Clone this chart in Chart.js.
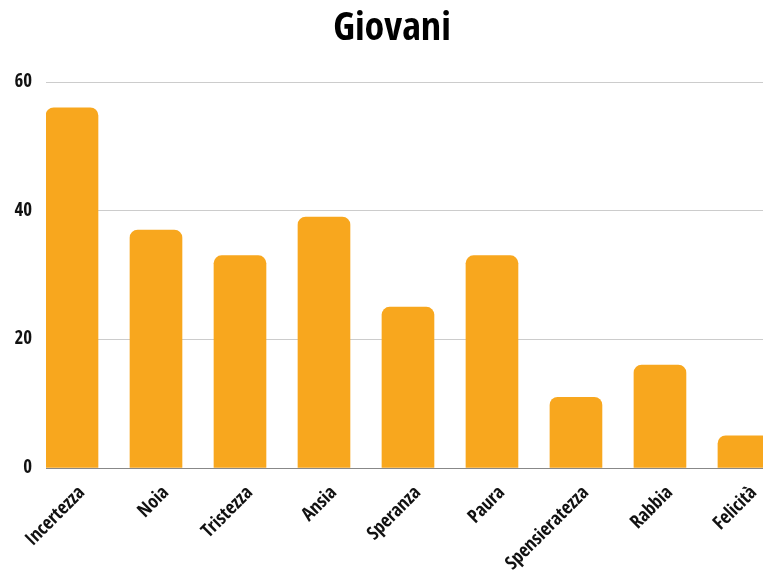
<!DOCTYPE html>
<html>
<head>
<meta charset="utf-8">
<script src="https://cdn.jsdelivr.net/npm/chart.js@4"></script>
<style>
html,body{margin:0;padding:0;overflow:hidden;background:#fff;width:763px;height:574px;}
canvas{display:block;}
</style>
</head>
<body>
<canvas id="c" width="770" height="574"></canvas>
<script>
const categories = ["Incertezza","Noia","Tristezza","Ansia","Speranza","Paura","Spensieratezza","Rabbia","Felicità"];
const values = [56, 37, 33, 39, 25, 33, 11, 16, 5];
const yTicks = [0, 20, 40, 60];
const title = "Giovani";

const FAM = "'Open Sans Condensed', 'Liberation Sans Narrow', 'DejaVu Sans Condensed', 'Open Sans', sans-serif";
const LABEL_SHIFT = 0.12;
new Chart(document.getElementById('c'), {
  type: 'bar',
  data: {
    datasets: [{
      data: categories.map((c, i) => ({x: i, y: values[i]})),
      backgroundColor: '#F8A71E',
      borderRadius: {topLeft: 8, topRight: 8, bottomLeft: 0, bottomRight: 0},
      borderSkipped: 'start',
      barThickness: 52
    }]
  },
  options: {
    responsive: false,
    animation: false,
    layout: {padding: {left: 14, right: 0, top: 0, bottom: 0}},
    plugins: {
      legend: {display: false},
      tooltip: {enabled: false},
      title: {
        display: true, text: title, color: '#000',
        font: {family: FAM, size: 40, weight: 'bold', style: 'condensed', lineHeight: 1.2},
        padding: {top: 6, bottom: 28}
      }
    },
    scales: {
      x: {
        type: 'linear',
        offset: false,
        min: -0.3095, max: 8.31,
        grid: {display: false, drawTicks: false},
        border: {display: false},
        afterBuildTicks: s => { s.ticks = categories.map((c, i) => ({value: i + LABEL_SHIFT})); },
        afterFit: s => { s.height = 106; s.paddingLeft = 0; s.paddingRight = 0; },
        ticks: {
          callback: v => categories[Math.round(v)] ?? '',
          autoSkip: false, minRotation: 45, maxRotation: 45,
          color: '#111', padding: 14,
          font: {family: FAM, size: 19, weight: 'bold', style: 'condensed'}
        }
      },
      y: {
        min: 0, max: 60,
        afterBuildTicks: s => { s.ticks = yTicks.map(v => ({value: v})); },
        afterFit: s => { s.width = 32; },
        grid: {
          drawTicks: false,
          color: c => c.tick && c.tick.value === 0 ? '#888' : '#cccccc',
          lineWidth: 1
        },
        border: {display: false},
        ticks: {
          color: '#111', padding: 14,
          font: {family: FAM, size: 19, weight: 'bold', style: 'condensed'}
        }
      }
    }
  }
});
</script>
</body>
</html>
